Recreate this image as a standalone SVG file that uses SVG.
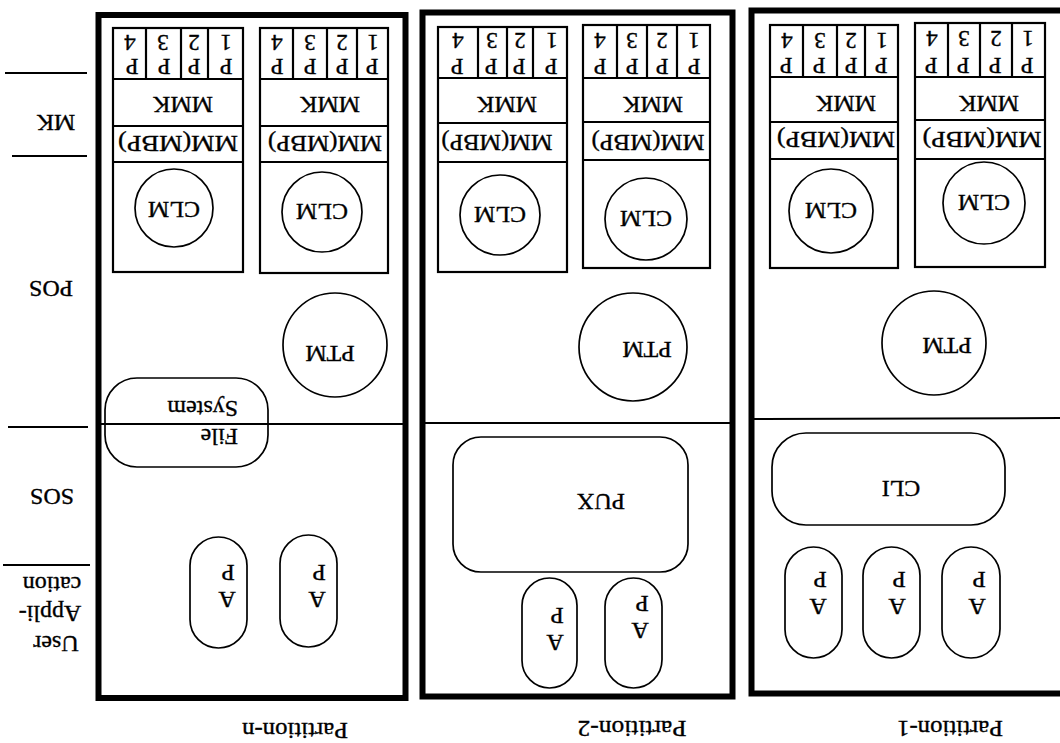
<svg xmlns="http://www.w3.org/2000/svg" width="1060" height="743" viewBox="0 0 1060 743">
<style>
.part{fill:none;stroke:#000;stroke-width:6}
.box{fill:none;stroke:#000;stroke-width:2.2}
.ln{fill:none;stroke:#000;stroke-width:2}
.sh{fill:none;stroke:#000;stroke-width:1.7}
text{font-family:"Liberation Serif","Times New Roman",serif;font-size:24px;fill:#000;stroke:#000;stroke-width:0.35;text-anchor:middle;dominant-baseline:central}
.s{font-size:23px}
.st{text-anchor:start}
</style>
<rect width="1060" height="743" fill="#fff"/>

<g id="layer-labels">
<line class="ln" x1="5" y1="73" x2="87" y2="73"/>
<line class="ln" x1="12" y1="156" x2="87" y2="156"/>
<line class="ln" x1="8" y1="427" x2="88" y2="427"/>
<line class="ln" x1="3" y1="565" x2="90" y2="565"/>
<text x="56" y="123" transform="rotate(180 56 123)">MK</text>
<text x="51" y="289" transform="rotate(180 51 289)">POS</text>
<text x="52" y="497" transform="rotate(180 52 497)">SOS</text>
<text x="56" y="644" transform="rotate(180 56 644)">User</text>
<text x="50" y="614" transform="rotate(180 50 614)">Appli-</text>
<text x="52" y="585" transform="rotate(180 52 585)">cation</text>
</g>

<!-- Partition-n -->
<g id="partition-n">
<rect class="part" x="98.5" y="15" width="307" height="683"/>
<line class="ln" x1="98" y1="424" x2="405" y2="424"/>
<text x="295" y="731" textLength="106" lengthAdjust="spacingAndGlyphs" transform="rotate(180 295 731)">Partition-n</text>
</g>
<g id="pn-node-a">
<rect class="box" x="113" y="28" width="130" height="244"/>
<line class="box" x1="113" y1="79" x2="243" y2="79"/>
<line class="box" x1="113" y1="126" x2="243" y2="126"/>
<line class="box" x1="113" y1="162" x2="243" y2="162"/>
<line class="box" x1="146" y1="28" x2="146" y2="79"/>
<line class="box" x1="181" y1="28" x2="181" y2="79"/>
<line class="box" x1="208" y1="28" x2="208" y2="79"/>
<text class="s" x="130" y="42" transform="rotate(180 130 42)">4</text>
<text class="s" x="163" y="42" transform="rotate(180 163 42)">3</text>
<text class="s" x="194" y="42" transform="rotate(180 194 42)">2</text>
<text class="s" x="226" y="42" transform="rotate(180 226 42)">1</text>
<text class="s" x="132" y="66" transform="rotate(180 132 66)">P</text>
<text class="s" x="164" y="66" transform="rotate(180 164 66)">P</text>
<text class="s" x="194" y="66" transform="rotate(180 194 66)">P</text>
<text class="s" x="226" y="66" transform="rotate(180 226 66)">P</text>
<text x="183" y="105" transform="rotate(180 183 105)">MMK</text>
<text x="178" y="144" textLength="120" lengthAdjust="spacingAndGlyphs" transform="rotate(180 178 144)">MM(MBP)</text>
<circle class="sh" cx="174" cy="208" r="39"/>
<text x="174" y="210" transform="rotate(180 174 210)">CLM</text>
</g>
<g id="pn-node-b">
<rect class="box" x="260" y="28" width="128" height="245"/>
<line class="box" x1="260" y1="79" x2="388" y2="79"/>
<line class="box" x1="260" y1="126" x2="388" y2="126"/>
<line class="box" x1="260" y1="162" x2="388" y2="162"/>
<line class="box" x1="293" y1="28" x2="293" y2="79"/>
<line class="box" x1="327" y1="28" x2="327" y2="79"/>
<line class="box" x1="357" y1="28" x2="357" y2="79"/>
<text class="s" x="277" y="42" transform="rotate(180 277 42)">4</text>
<text class="s" x="310" y="42" transform="rotate(180 310 42)">3</text>
<text class="s" x="342" y="42" transform="rotate(180 342 42)">2</text>
<text class="s" x="373" y="42" transform="rotate(180 373 42)">1</text>
<text class="s" x="277" y="66" transform="rotate(180 277 66)">P</text>
<text class="s" x="310" y="66" transform="rotate(180 310 66)">P</text>
<text class="s" x="342" y="66" transform="rotate(180 342 66)">P</text>
<text class="s" x="372" y="66" transform="rotate(180 372 66)">P</text>
<text x="330" y="105" transform="rotate(180 330 105)">MMK</text>
<text x="325" y="144" textLength="114" lengthAdjust="spacingAndGlyphs" transform="rotate(180 325 144)">MM(MBP)</text>
<circle class="sh" cx="322" cy="212" r="40"/>
<text x="322" y="212" transform="rotate(180 322 212)">CLM</text>
</g>
<g id="pn-ptm">
<circle class="sh" cx="335" cy="345" r="52"/>
<text x="330" y="354" transform="rotate(180 330 354)">PTM</text>
</g>
<g id="pn-filesystem">
<rect class="sh" x="105" y="378" width="163" height="89" rx="32"/>
<text class="st" x="238" y="437" transform="rotate(180 238 437)">File</text>
<text class="st" x="238" y="409" transform="rotate(180 238 409)">System</text>
</g>
<g id="pn-ap1">
<rect class="sh" x="190" y="537" width="57" height="111" rx="28.5"/>
<text x="227" y="600" transform="rotate(180 227 600)">A</text>
<text x="228" y="573" transform="rotate(180 228 573)">P</text>
</g>
<g id="pn-ap2">
<rect class="sh" x="280" y="535" width="57" height="112" rx="28.5"/>
<text x="317" y="600" transform="rotate(180 317 600)">A</text>
<text x="319" y="573" transform="rotate(180 319 573)">P</text>
</g>

<!-- Partition-2 -->
<g id="partition-2">
<rect class="part" x="422.5" y="12.5" width="310" height="684"/>
<line class="ln" x1="422" y1="423" x2="732" y2="423"/>
<text x="632" y="729" textLength="109" lengthAdjust="spacingAndGlyphs" transform="rotate(180 632 729)">Partition-2</text>
</g>
<g id="p2-node-a">
<rect class="box" x="438" y="27" width="129" height="245"/>
<line class="box" x1="438" y1="78" x2="567" y2="78"/>
<line class="box" x1="438" y1="123" x2="567" y2="123"/>
<line class="box" x1="438" y1="162" x2="567" y2="162"/>
<line class="box" x1="478" y1="27" x2="478" y2="78"/>
<line class="box" x1="507" y1="27" x2="507" y2="78"/>
<line class="box" x1="533" y1="27" x2="533" y2="78"/>
<text class="s" x="458" y="40" transform="rotate(180 458 40)">4</text>
<text class="s" x="492" y="40" transform="rotate(180 492 40)">3</text>
<text class="s" x="520" y="40" transform="rotate(180 520 40)">2</text>
<text class="s" x="552" y="40" transform="rotate(180 552 40)">1</text>
<text class="s" x="457" y="66" transform="rotate(180 457 66)">P</text>
<text class="s" x="491" y="66" transform="rotate(180 491 66)">P</text>
<text class="s" x="519" y="66" transform="rotate(180 519 66)">P</text>
<text class="s" x="551" y="66" transform="rotate(180 551 66)">P</text>
<text x="507" y="105" transform="rotate(180 507 105)">MMK</text>
<text x="497" y="143" textLength="111" lengthAdjust="spacingAndGlyphs" transform="rotate(180 497 143)">MM(MBP)</text>
<circle class="sh" cx="500" cy="215" r="40"/>
<text x="500" y="215" transform="rotate(180 500 215)">CLM</text>
</g>
<g id="p2-node-b">
<rect class="box" x="583" y="25" width="127" height="243"/>
<line class="box" x1="583" y1="78" x2="710" y2="78"/>
<line class="box" x1="583" y1="122" x2="710" y2="122"/>
<line class="box" x1="583" y1="160" x2="710" y2="160"/>
<line class="box" x1="617" y1="25" x2="617" y2="78"/>
<line class="box" x1="647" y1="25" x2="647" y2="78"/>
<line class="box" x1="677" y1="25" x2="677" y2="78"/>
<text class="s" x="600" y="40" transform="rotate(180 600 40)">4</text>
<text class="s" x="632" y="40" transform="rotate(180 632 40)">3</text>
<text class="s" x="662" y="40" transform="rotate(180 662 40)">2</text>
<text class="s" x="694" y="40" transform="rotate(180 694 40)">1</text>
<text class="s" x="600" y="66" transform="rotate(180 600 66)">P</text>
<text class="s" x="632" y="66" transform="rotate(180 632 66)">P</text>
<text class="s" x="662" y="66" transform="rotate(180 662 66)">P</text>
<text class="s" x="694" y="66" transform="rotate(180 694 66)">P</text>
<text x="653" y="105" transform="rotate(180 653 105)">MMK</text>
<text x="648" y="143" textLength="113" lengthAdjust="spacingAndGlyphs" transform="rotate(180 648 143)">MM(MBP)</text>
<circle class="sh" cx="646" cy="219" r="41"/>
<text x="646" y="219" transform="rotate(180 646 219)">CLM</text>
</g>
<g id="p2-ptm">
<circle class="sh" cx="633" cy="347" r="54"/>
<text x="647" y="350" transform="rotate(180 647 350)">PTM</text>
</g>
<g id="p2-pux">
<rect class="sh" x="453" y="437" width="235" height="135" rx="28"/>
<text x="601" y="502" transform="rotate(180 601 502)">PUX</text>
</g>
<g id="p2-ap1">
<rect class="sh" x="522" y="578" width="55" height="110" rx="27.5"/>
<text x="555" y="643" transform="rotate(180 555 643)">A</text>
<text x="557" y="616" transform="rotate(180 557 616)">P</text>
</g>
<g id="p2-ap2">
<rect class="sh" x="605" y="578" width="57" height="110" rx="28.5"/>
<text x="640" y="631" transform="rotate(180 640 631)">A</text>
<text x="642" y="604" transform="rotate(180 642 604)">P</text>
</g>

<!-- Partition-1 -->
<g id="partition-1">
<rect class="part" x="751.5" y="10.5" width="315" height="683"/>
<line class="ln" x1="751" y1="419" x2="1060" y2="418"/>
<text x="950" y="729" textLength="106" lengthAdjust="spacingAndGlyphs" transform="rotate(180 950 729)">Partition-1</text>
</g>
<g id="p1-node-a">
<rect class="box" x="770" y="25" width="128" height="243"/>
<line class="box" x1="770" y1="77" x2="898" y2="77"/>
<line class="box" x1="770" y1="122" x2="898" y2="122"/>
<line class="box" x1="770" y1="159" x2="898" y2="159"/>
<line class="box" x1="803" y1="25" x2="803" y2="77"/>
<line class="box" x1="837" y1="25" x2="837" y2="77"/>
<line class="box" x1="865" y1="25" x2="865" y2="77"/>
<text class="s" x="787" y="40" transform="rotate(180 787 40)">4</text>
<text class="s" x="820" y="40" transform="rotate(180 820 40)">3</text>
<text class="s" x="851" y="40" transform="rotate(180 851 40)">2</text>
<text class="s" x="882" y="40" transform="rotate(180 882 40)">1</text>
<text class="s" x="786" y="65" transform="rotate(180 786 65)">P</text>
<text class="s" x="819" y="65" transform="rotate(180 819 65)">P</text>
<text class="s" x="851" y="65" transform="rotate(180 851 65)">P</text>
<text class="s" x="881" y="65" transform="rotate(180 881 65)">P</text>
<text x="846" y="104" transform="rotate(180 846 104)">MMK</text>
<text x="836" y="140" textLength="118" lengthAdjust="spacingAndGlyphs" transform="rotate(180 836 140)">MM(MBP)</text>
<circle class="sh" cx="831" cy="211" r="42"/>
<text x="831" y="211" transform="rotate(180 831 211)">CLM</text>
</g>
<g id="p1-node-b">
<rect class="box" x="915" y="23" width="130" height="244"/>
<line class="box" x1="915" y1="77" x2="1045" y2="77"/>
<line class="box" x1="915" y1="120" x2="1045" y2="120"/>
<line class="box" x1="915" y1="159" x2="1045" y2="159"/>
<line class="box" x1="948" y1="23" x2="948" y2="77"/>
<line class="box" x1="980" y1="23" x2="980" y2="77"/>
<line class="box" x1="1012" y1="23" x2="1012" y2="77"/>
<text class="s" x="932" y="38" transform="rotate(180 932 38)">4</text>
<text class="s" x="964" y="38" transform="rotate(180 964 38)">3</text>
<text class="s" x="996" y="38" transform="rotate(180 996 38)">2</text>
<text class="s" x="1028" y="38" transform="rotate(180 1028 38)">1</text>
<text class="s" x="931" y="65" transform="rotate(180 931 65)">P</text>
<text class="s" x="963" y="65" transform="rotate(180 963 65)">P</text>
<text class="s" x="995" y="65" transform="rotate(180 995 65)">P</text>
<text class="s" x="1027" y="65" transform="rotate(180 1027 65)">P</text>
<text x="989" y="104" transform="rotate(180 989 104)">MMK</text>
<text x="982" y="140" textLength="119" lengthAdjust="spacingAndGlyphs" transform="rotate(180 982 140)">MM(MBP)</text>
<circle class="sh" cx="984" cy="203" r="41"/>
<text x="984" y="203" transform="rotate(180 984 203)">CLM</text>
</g>
<g id="p1-ptm">
<circle class="sh" cx="934" cy="343" r="52"/>
<text x="947" y="346" transform="rotate(180 947 346)">PTM</text>
</g>
<g id="p1-cli">
<rect class="sh" x="772" y="433" width="233" height="92" rx="34"/>
<text x="901" y="489" transform="rotate(180 901 489)">CLI</text>
</g>
<g id="p1-ap1">
<rect class="sh" x="785" y="547" width="57" height="111" rx="28.5"/>
<text x="818" y="607" transform="rotate(180 818 607)">A</text>
<text x="820" y="580" transform="rotate(180 820 580)">P</text>
</g>
<g id="p1-ap2">
<rect class="sh" x="863" y="547" width="57" height="111" rx="28.5"/>
<text x="897" y="607" transform="rotate(180 897 607)">A</text>
<text x="899" y="580" transform="rotate(180 899 580)">P</text>
</g>
<g id="p1-ap3">
<rect class="sh" x="942" y="547" width="58" height="111" rx="29"/>
<text x="977" y="607" transform="rotate(180 977 607)">A</text>
<text x="979" y="580" transform="rotate(180 979 580)">P</text>
</g>

<g id="connectors"></g>
</svg>
